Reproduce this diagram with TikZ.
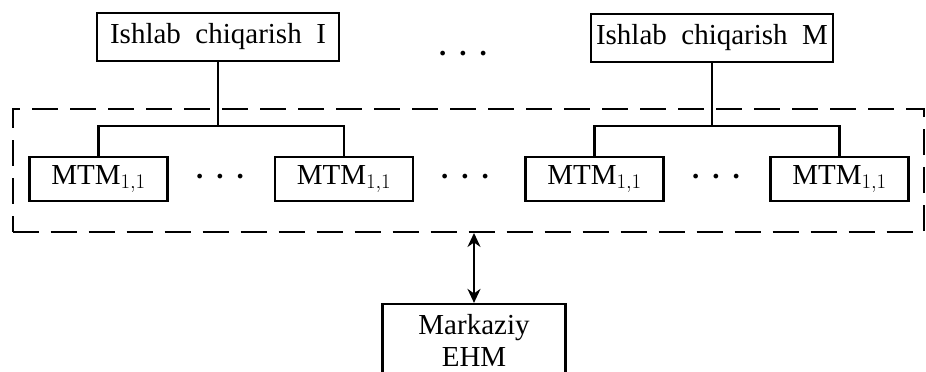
\documentclass[tikz,border=0pt]{standalone}
\usepackage{fontspec}
\setmainfont{Liberation Serif}
\usetikzlibrary{arrows.meta}
\begin{document}
\begin{tikzpicture}[x=1pt,y=-1pt,
  every node/.style={font=\fontsize{29}{32}\selectfont},
  box/.style={draw,line width=2.2pt,inner sep=0pt,minimum height=48pt},
  mtm/.style={draw,line width=2.2pt,inner sep=0pt,minimum width=138pt,minimum height=44pt},
  con/.style={line width=2.2pt},
  grpbox/.style={draw,line width=2pt,dash pattern=on 26pt off 12pt,inner sep=0pt,minimum width=911pt,minimum height=123pt},
  dots/.style={inner sep=0pt,font=\fontsize{29}{32}\selectfont\bfseries}]
\useasboundingbox (0,0) rectangle (926,372);
\node[box,minimum width=242pt] (bI) at (218,37) {Ishlab\ \ chiqarish\ \ I};
\node[box,minimum width=242pt] (bM) at (712,38) {Ishlab\ \ chiqarish\ \ M};
\node[dots] (d0) at (463,54) {.\hspace{0.45em}.\hspace{0.45em}.};
\node[grpbox] (grp) at (468,170.5) {};
\node[mtm] (m1) at (98.5,179) {MTM$_{\scriptstyle 1,1}$};
\node[mtm] (m2) at (344,179) {MTM$_{\scriptstyle 1,1}$};
\node[mtm] (m3) at (594.5,179) {MTM$_{\scriptstyle 1,1}$};
\node[mtm] (m4) at (839.5,179) {MTM$_{\scriptstyle 1,1}$};
\node[dots] (d1) at (220,177) {.\hspace{0.45em}.\hspace{0.45em}.};
\node[dots] (d2) at (465,177) {.\hspace{0.45em}.\hspace{0.45em}.};
\node[dots] (d3) at (716,177) {.\hspace{0.45em}.\hspace{0.45em}.};
\coordinate (yb) at (0,126);
\draw[con] (bI.south) -- (bI.south |- yb);
\draw[con] (m1.north) -- (m1.north |- yb) -- (m2.north |- yb) -- (m2.north);
\draw[con] (bM.south) -- (bM.south |- yb);
\draw[con] (m3.north) -- (m3.north |- yb) -- (m4.north |- yb) -- (m4.north);
\node[draw,line width=2.2pt,minimum width=183pt,minimum height=72pt,align=center,inner sep=0pt] (mk) at (474,340) {Markaziy\\EHM};
\draw[con,{Stealth[length=14pt,width=13pt]}-{Stealth[length=14pt,width=13pt]}] (grp.south -| mk.north) -- (mk.north);
\end{tikzpicture}
\end{document}
